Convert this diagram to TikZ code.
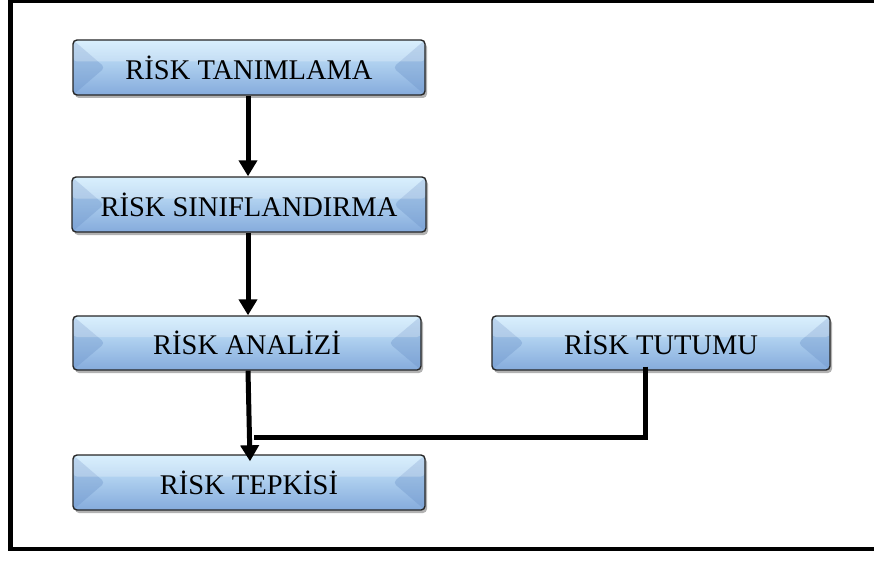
\documentclass[tikz,border=0pt]{standalone}
\usepackage{fontspec}
\setmainfont{Liberation Serif}
\usetikzlibrary{arrows.meta,shadows}

\definecolor{boxtop}{HTML}{CDEBFD}
\definecolor{boxmid}{HTML}{A6CAEE}
\definecolor{boxbot}{HTML}{85ABDC}
\definecolor{bevelside}{HTML}{6F96CB}

\tikzset{
  stage/.style={
    draw=black!85, line width=1.4pt, rounded corners=4pt,
    top color=boxtop, middle color=boxmid, bottom color=boxbot,
    inner sep=0pt, text height=23.5pt, text depth=0pt,
    font=\fontsize{28.5}{30}\selectfont,
    drop shadow={shadow xshift=2pt, shadow yshift=-3pt, opacity=0.3, fill=black},
    path picture={
      \fill[bevelside, opacity=0.4]
        (path picture bounding box.north west)
        -- ([xshift=32pt]path picture bounding box.west)
        -- (path picture bounding box.south west) -- cycle;
      \fill[bevelside, opacity=0.4]
        (path picture bounding box.north east)
        -- ([xshift=-32pt]path picture bounding box.east)
        -- (path picture bounding box.south east) -- cycle;
      \fill[white, opacity=0.25]
        (path picture bounding box.north west)
        rectangle ([yshift=6pt]path picture bounding box.east);
    }
  },
  flow/.style={line width=5pt, -{Triangle[width=18pt,length=16pt]}},
  link/.style={line width=5pt},
  frame/.style={line width=4.5pt}
}

\begin{document}
\begin{tikzpicture}[x=1pt, y=-1pt]
  \useasboundingbox (0,0) rectangle (874,567);

  % outer frame (open on the right)
  \draw[frame] (880,1) -- (10.5,1) -- (10.5,549) -- (880,549);

  % process stages
  \node[stage, minimum width=352pt, minimum height=55pt] (r1) at (249,67.5) {RİSK TANIMLAMA};
  \node[stage, minimum width=354pt, minimum height=55pt] (r2) at (249,204.5) {RİSK SINIFLANDIRMA};
  \node[stage, minimum width=348pt, minimum height=54pt] (r3) at (247,343) {RİSK ANALİZİ};
  \node[stage, minimum width=338pt, minimum height=54pt] (r4) at (661,343) {RİSK TUTUMU};
  \node[stage, minimum width=352pt, minimum height=55pt] (r5) at (249,482.5) {RİSK TEPKİSİ};

  % junction where the attitude line meets the main flow
  \coordinate (j) at (254,437);

  % main flow
  \draw[flow] ([xshift=-1pt]r1.south) -- ([xshift=-1pt]r2.north);
  \draw[flow] ([xshift=-1pt]r2.south) -- ([xshift=1pt]r3.north);
  \draw[flow] ([xshift=1pt]r3.south) -- ([xshift=1pt,yshift=-7pt]r5.north);

  % risk attitude feeding into the response
  \draw[link] ([xshift=-16pt,yshift=4pt]r4.south) |- (j);
\end{tikzpicture}
\end{document}
